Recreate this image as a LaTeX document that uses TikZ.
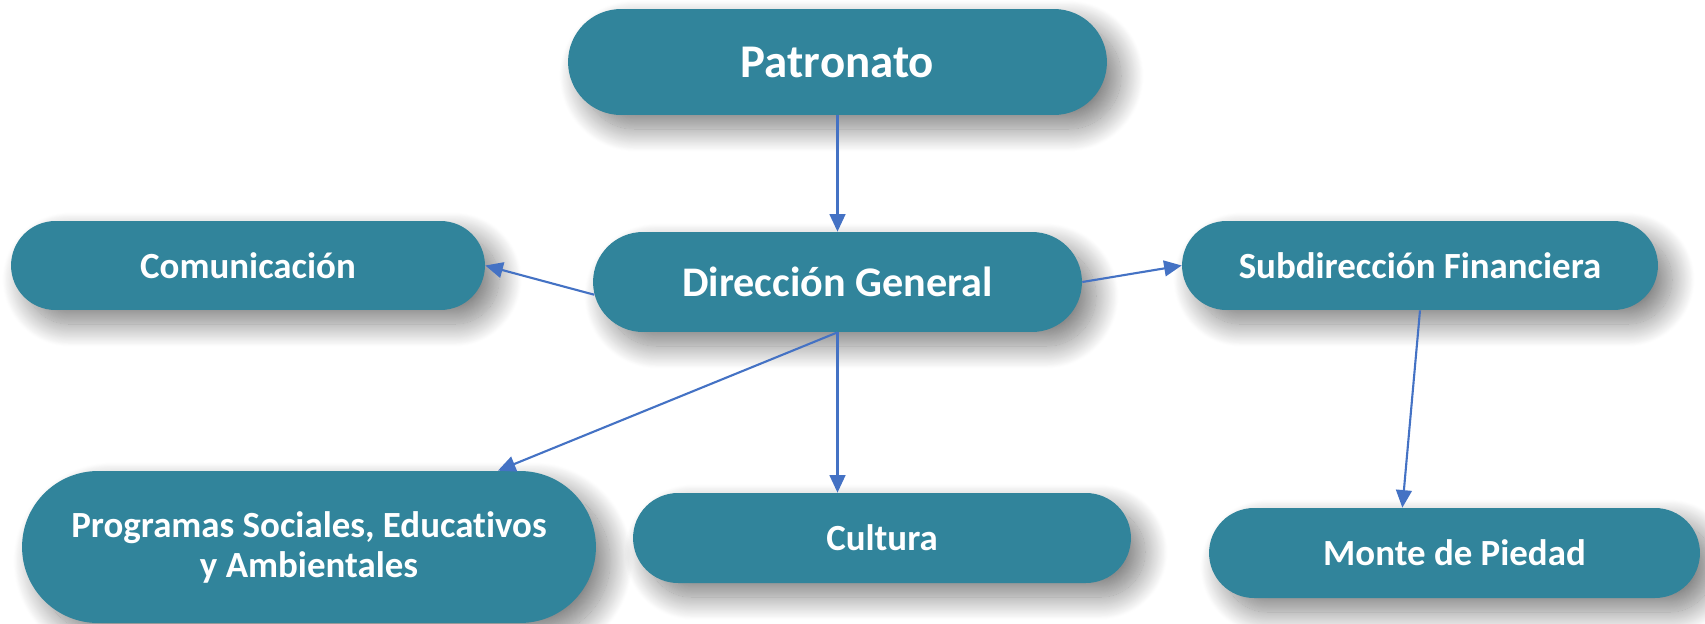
\documentclass[tikz,border=0pt]{standalone}
\usepackage{fontspec}
\setmainfont[Ligatures=CommonOff]{Carlito}
\usetikzlibrary{shapes.misc,arrows.meta,shadows.blur}
\definecolor{tealbox}{RGB}{49,132,155}
\definecolor{linkblue}{RGB}{68,114,196}

\begin{document}
\begin{tikzpicture}[x=0.02cm,y=-0.02cm,
        unit/.style={rounded rectangle,fill=tealbox,text=white,font=\bfseries,inner sep=0pt,align=center,
            blur shadow={shadow xshift=8pt,shadow yshift=-8pt,shadow blur radius=13pt,shadow blur steps=30,shadow opacity=50}},
        link/.style={linkblue,line width=1.2pt,-{Triangle[length=10pt,width=9pt]}}]
            \useasboundingbox (0,0) rectangle (1705,623);

            \node[unit,minimum width=10.78cm,minimum height=2.12cm,font=\bfseries\fontsize{26.7}{30}\selectfont] (pat) at (837.5,62) {Patronato};
            \node[unit,minimum width=9.78cm,minimum height=2cm,font=\bfseries\fontsize{24}{28}\selectfont] (dg) at (837.5,282) {Dirección General};
            \node[unit,minimum width=9.48cm,minimum height=1.78cm,font=\bfseries\fontsize{21}{24}\selectfont] (com) at (248,265.5) {Comunicación};
            \node[unit,minimum width=9.52cm,minimum height=1.78cm,font=\bfseries\fontsize{21}{24}\selectfont] (sub) at (1420,265.5) {Subdirección Financiera};
            \node[unit,minimum width=11.48cm,minimum height=3.04cm,font=\bfseries\fontsize{21}{22.8}\selectfont] (prog) at (309,547) {Programas Sociales, Educativos\\y Ambientales};
            \node[unit,minimum width=9.96cm,minimum height=1.8cm,font=\bfseries\fontsize{21}{24}\selectfont] (cul) at (882,538) {Cultura};
            \node[unit,minimum width=9.82cm,minimum height=1.8cm,font=\bfseries\fontsize{21}{24}\selectfont] (mon) at (1454.5,553) {Monte de Piedad};

            \draw[link] (pat.south)--(dg.north);
            \draw[link] (dg.183)--(com.east);
            \draw[link] (dg.east)--(sub.west);
            \draw[link] (dg.south)--(prog.22);
            \draw[link] (dg.south)--(dg.south |- cul.north);
            \draw[link] (sub.south)--(mon.139);
        \end{tikzpicture}
\end{document}
